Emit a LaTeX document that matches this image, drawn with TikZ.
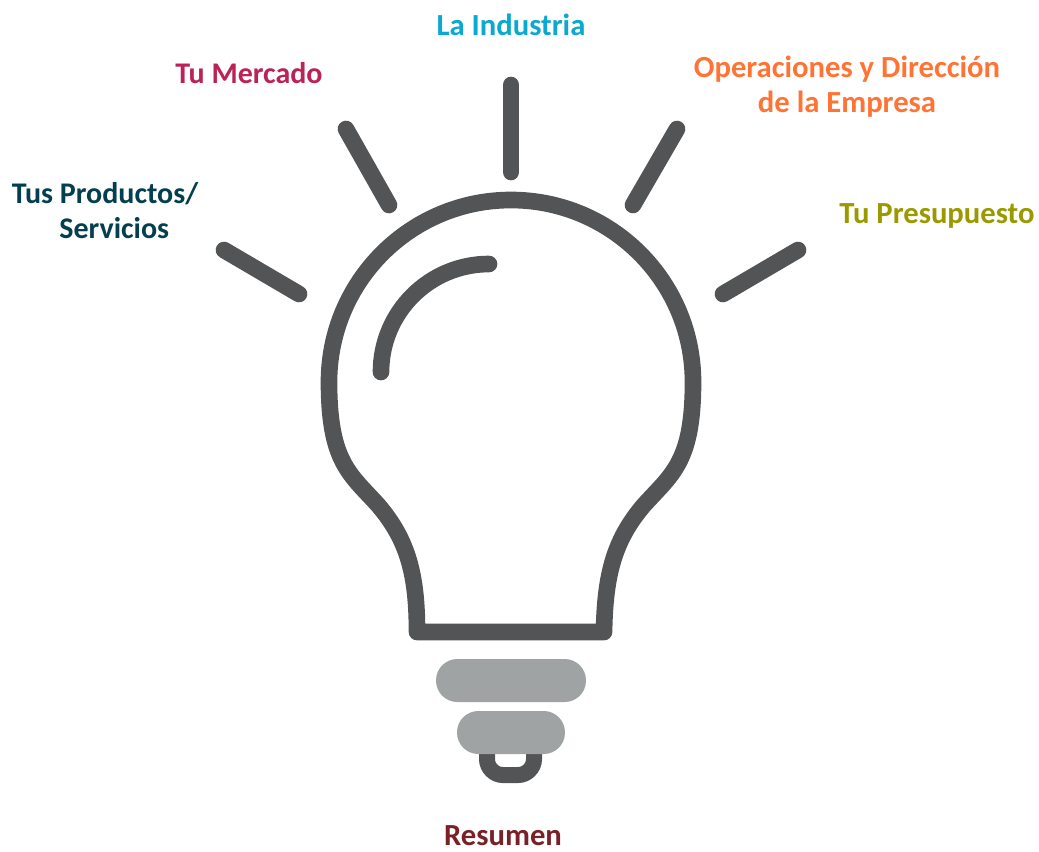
\documentclass[tikz,border=0pt]{standalone}
\usepackage{fontspec}
\setmainfont{Carlito}
\definecolor{bulbgray}{HTML}{525456}
\definecolor{capgray}{HTML}{9FA3A3}
\definecolor{colind}{HTML}{0AA9D1}
\definecolor{colmer}{HTML}{BB2255}
\definecolor{colpro}{HTML}{043F4F}
\definecolor{colope}{HTML}{FF7435}
\definecolor{colpre}{HTML}{9A9A00}
\definecolor{colres}{HTML}{7A2128}
\tikzset{
  lbl/.style={font=\fontsize{23pt}{26pt}\selectfont\bfseries,inner sep=0pt,align=center,anchor=base},
  lblsm/.style={lbl,font=\fontsize{22.5pt}{26pt}\selectfont\bfseries},
  ray/.style={line width=12.5pt,line cap=round,color=bulbgray},
}
\begin{document}
\begin{tikzpicture}[x=0.75pt,y=-0.75pt]
		\useasboundingbox (0,0) rectangle (1039,851);
		% rays
		\draw[ray] (511,85) -- (511,172);
		\draw[ray] (346,129) -- (389,205);
		\draw[ray] (677,129) -- (633,205);
		\draw[ray] (224,250) -- (299,294);
		\draw[ray] (798,250) -- (723,294);
		% bulb
		\draw[line width=12.5pt,color=bulbgray,line join=round] (417,632) .. controls (417,575) and (408,540) .. (378,505) .. controls (350,474) and (329,462) .. (329,382) arc[start angle=180,end angle=360,radius=182] .. controls (693,462) and (672,474) .. (644,505) .. controls (614,540) and (605,575) .. (604,632) -- cycle;
		\draw[line width=12.5pt,line cap=round,color=bulbgray] (381,372) arc[start angle=180,end angle=270,radius=108];
		% base
		\draw[line width=12pt,color=bulbgray,rounded corners=12] (487,745) -- (487,775) -- (534,775) -- (534,745);
		\fill[capgray,rounded corners=16] (436,659) rectangle (586,702);
		\fill[capgray,rounded corners=16] (457,711) rectangle (565,754);
		% labels
		\node[lbl,text=colind] (ind) at (511,35) {La Industria};
		\node[lblsm,text=colmer] (mer) at (249,83) {Tu Mercado};
		\node[lblsm,text=colpro] (pro) at (105,238) {Tus Productos/\\\hspace*{14pt}Servicios};
		\node[lbl,text=colope] (ope) at (847,112.5) {Operaciones y Dirección\\de la Empresa};
		\node[lbl,text=colpre] (pre) at (937,223) {Tu Presupuesto};
		\node[lbl,text=colres] (res) at (503,845) {Resumen};
\end{tikzpicture}
\end{document}
